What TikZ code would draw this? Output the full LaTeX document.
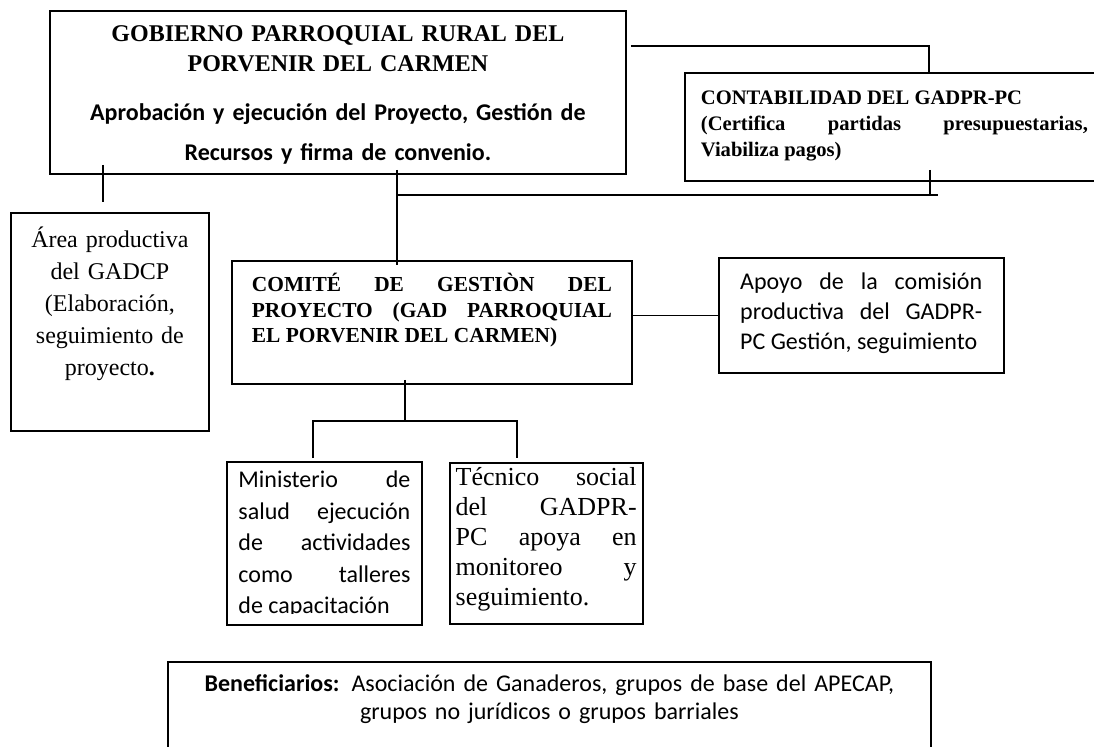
\documentclass[tikz,border=0pt]{standalone}
\usepackage{fontspec}
\setmainfont{Liberation Serif}
\newfontfamily\calibri{Carlito}
\usetikzlibrary{positioning,calc}

\begin{document}
\begin{tikzpicture}[x=0.5pt,y=-0.5pt,line width=0.9pt,
  caja/.style={draw,inner ysep=0pt,anchor=north west,align=justify}]
   \useasboundingbox (0,0) rectangle (1094,746);
   \node[caja,inner xsep=10pt,text width=268pt,text height=15.5pt,text depth=66pt,align=center,
         font=\fontsize{12}{15}\selectfont] (gob) at (49,10)
     {\textbf{GOBIERNO PARROQUIAL RURAL DEL}\\
      \textbf{PORVENIR DEL CARMEN}\\[9.5pt]
      {\calibri\bfseries Aprobación y ejecución del Proyecto, Gestión de}\\[5pt]
      {\calibri\bfseries Recursos y firma de convenio.}};
   \node[caja,inner xsep=8pt,text width=193.5pt,text height=16pt,text depth=38pt,
         font=\fontsize{10.3}{13}\selectfont\bfseries] (conta) at (684,72)
     {CONTABILIDAD DEL GADPR-PC\par
      (Certifica partidas presupuestarias,\linebreak Viabiliza pagos)};
   \node[caja,inner xsep=4pt,text width=91pt,text height=17.5pt,text depth=91.5pt,align=center,
         font=\fontsize{12}{15.9}\selectfont] (area) at (10,212)
     {Área productiva\\ del GADCP\\ (Elaboración,\\ seguimiento de\\ proyecto\textbf{.}};
   \node[caja,inner xsep=10pt,text width=180pt,text height=15.5pt,text depth=46pt,
         font=\fontsize{10.7}{12.75}\selectfont\bfseries] (comite) at (231,260)
     {COMITÉ DE GESTIÒN DEL\linebreak PROYECTO (GAD PARROQUIAL\linebreak EL PORVENIR DEL CARMEN)};
   \node[caja,inner xsep=10.75pt,text width=121pt,text height=16pt,text depth=41.5pt,
         font=\calibri\fontsize{12}{15}\selectfont,right=42.5pt of comite,yshift=3.5pt] (apoyo)
     {Apoyo de la comisión\linebreak productiva del GADPR-\linebreak PC Gestión, seguimiento};
   \begin{scope}
     \clip (227,462) rectangle (420,613.5);
     \node[caja,draw=none,inner xsep=5.25pt,text width=86pt,text height=12.5pt,text depth=68pt,
           font=\calibri\fontsize{12}{15.7}\selectfont] (minis) at (227,462)
       {Ministerio de\linebreak salud ejecución\linebreak de actividades\linebreak como talleres\linebreak de capacitación};
   \end{scope}
   \draw (minis.north west) rectangle (minis.south east);
   \node[caja,inner xsep=3pt,text width=90.5pt,text height=11.5pt,text depth=69pt,
         font=\fontsize{13}{15}\selectfont,right=13.5pt of minis.north east,anchor=north west] (tecnico)
     {\rightskip=7.5pt\relax Técnico social\linebreak del GADPR-\linebreak PC apoya en\linebreak monitoreo y\linebreak seguimiento.};
   \node[caja,inner xsep=10pt,text width=361.5pt,text height=15pt,text depth=34.5pt,align=center,
         font=\calibri\fontsize{12}{14}\selectfont] (benef) at (167,661)
     {\textbf{Beneficiarios:} Asociación de Ganaderos, grupos de base del APECAP,\\ grupos no jurídicos o grupos barriales};
   \coordinate (bus) at (397,195);
   \coordinate (busfin) at (938,195);
   \coordinate (split) at (405,421);
   \draw ($(gob.north east)+(4,36)$) -| ($(conta.north)+(34.5,0)$);
   \draw ($(gob.south -| bus)+(0,-5)$) -- ($(comite.north -| bus)+(0,5)$);
   \draw (bus) -- (busfin);
   \draw ($(conta.south -| busfin)+(-8,-12)$) -- ($(busfin)+(-8,0)$);
   \draw ($(gob.south -| area.north)+(-7,-10)$) -- ($(area.north)+(-7,-10)$);
   \draw (apoyo.west) -- (apoyo.west -| comite.east);
   \draw ($(comite.south -| split)+(0,-5)$) -- (split);
   \draw ($(minis.north)+(-11.5,-4)$) |- (split) -| ($(tecnico.north)+(-29.5,-4)$);
\end{tikzpicture}
\end{document}
